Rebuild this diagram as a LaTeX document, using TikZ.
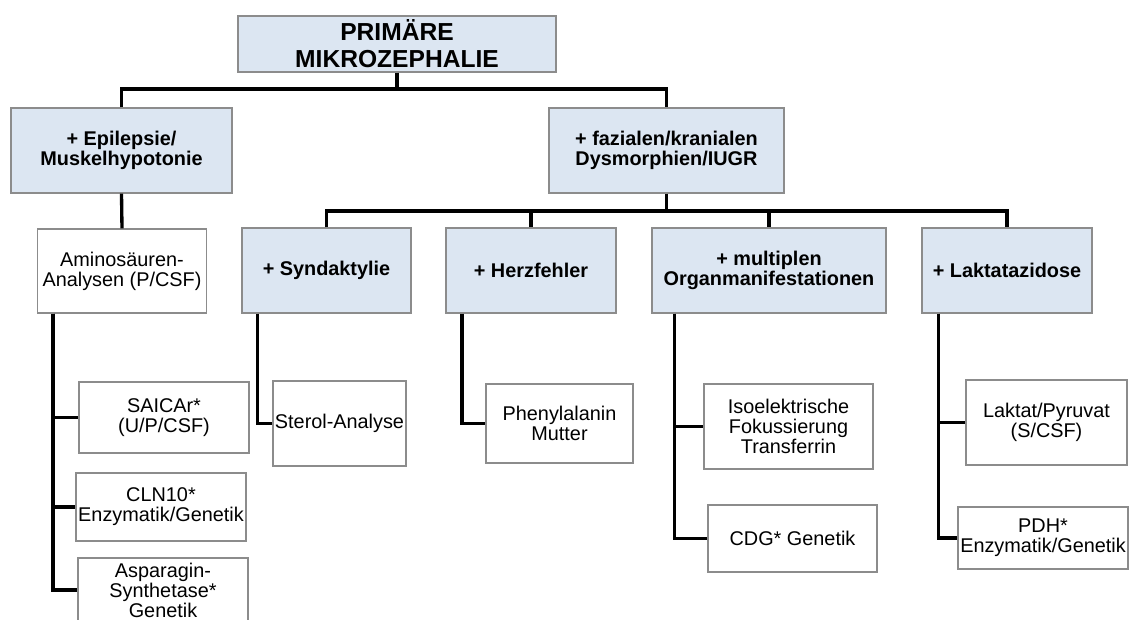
\documentclass[tikz,border=0pt]{standalone}
\usepackage{fontspec}
\setmainfont{Liberation Sans}
\usepackage{tikz}
\usetikzlibrary{positioning}
\definecolor{headblue}{HTML}{DCE6F2}
\definecolor{boxgray}{HTML}{8C8C8C}

\begin{document}
\begin{tikzpicture}[x=0.02cm, y=-0.02cm,
    base/.style={draw=boxgray, line width=0.7pt, align=center, inner sep=1pt,
                 font=\fontsize{11.3}{11.4}\selectfont},
    head/.style={base, fill=headblue, font=\bfseries\fontsize{11.3}{11.4}\selectfont},
    test/.style={base, fill=white},
    conn/.style={line width=1.9pt}]
    \clip (0,0) rectangle (1129,619);

    \node[head, minimum width=6.36cm, minimum height=1.12cm,
          font=\bfseries\fontsize{14}{15.3}\selectfont] (title) at (397,44) {PRIMÄRE\\MIKROZEPHALIE};

    \node[head, minimum width=4.42cm, minimum height=1.70cm] (epi) at (121.5,150.5) {+ Epilepsie/\\Muskelhypotonie};
    \node[head, minimum width=4.70cm, minimum height=1.70cm] (faz) at (666.5,150.5) {+ fazialen/kranialen\\Dysmorphien/IUGR};

    \node[test, minimum width=3.39cm, minimum height=1.68cm] (amino) at (122,271) {Aminosäuren-\\Analysen (P/CSF)};
    \node[head, minimum width=3.38cm, minimum height=1.70cm] (synd) at (326.5,270.5) {+ Syndaktylie};
    \node[head, minimum width=3.40cm, minimum height=1.70cm] (herz) at (531,270.5) {+ Herzfehler};
    \node[head, minimum width=4.68cm, minimum height=1.70cm] (multi) at (769,270.5) {+ multiplen\\Organmanifestationen};
    \node[head, minimum width=3.40cm, minimum height=1.70cm] (laktaz) at (1007,270.5) {+ Laktatazidose};

    \node[test, minimum width=3.40cm, minimum height=1.42cm] (saicar) at (164,417.5) {SAICAr*\\(U/P/CSF)};
    \node[test, minimum width=3.40cm, minimum height=1.36cm] (cln) at (161,507) {CLN10*\\Enzymatik/Genetik};
    \node[test, minimum width=3.40cm, minimum height=1.28cm] (aspar) at (163,590) {Asparagin-\\Synthetase*\\Genetik};

    \node[test, minimum width=2.66cm, minimum height=1.70cm] (sterol) at (339.5,423.5) {Sterol-Analyse};
    \node[test, minimum width=2.94cm, minimum height=1.58cm] (phenyl) at (559.5,423.5) {Phenylalanin\\Mutter};
    \node[test, minimum width=3.38cm, minimum height=1.70cm] (iso) at (788.5,426.5) {Isoelektrische\\Fokussierung\\Transferrin};
    \node[test, minimum width=3.38cm, minimum height=1.34cm] (cdg) at (792.5,538.5) {CDG* Genetik};
    \node[test, minimum width=3.22cm, minimum height=1.70cm] (laktpyr) at (1046.5,422.5) {Laktat/Pyruvat\\(S/CSF)};
    \node[test, minimum width=3.40cm, minimum height=1.24cm] (pdh) at (1043,538) {PDH*\\Enzymatik/Genetik};

    % tree lines
    \coordinate (top) at (397,89);
    \coordinate (mid) at (666.5,211);
    \draw[conn] (title.south) -- (top);
    \draw[conn] (epi.north) |- (top) -| (faz.north);
    \draw[conn] (epi.south) -- (amino.north);
    \draw[conn] (faz.south) -- (mid);
    \draw[conn] (synd.north) |- (mid) -| (laktaz.north);
    \draw[conn] (mid) -| (herz.north);
    \draw[conn] (mid) -| (multi.north);

    \draw[conn] ([xshift=0.33cm]amino.south west) |- (saicar.west);
    \draw[conn] ([xshift=0.33cm]amino.south west) |- (cln.west);
    \draw[conn] ([xshift=0.33cm]amino.south west) |- (aspar.west);
    \draw[conn] ([xshift=0.32cm]synd.south west) |- (sterol.west);
    \draw[conn] ([xshift=0.33cm]herz.south west) |- (phenyl.west);
    \draw[conn] ([xshift=0.46cm]multi.south west) |- (iso.west);
    \draw[conn] ([xshift=0.46cm]multi.south west) |- (cdg.west);
    \draw[conn] ([xshift=0.34cm]laktaz.south west) |- (laktpyr.west);
    \draw[conn] ([xshift=0.34cm]laktaz.south west) |- (pdh.west);
\end{tikzpicture}
\end{document}
